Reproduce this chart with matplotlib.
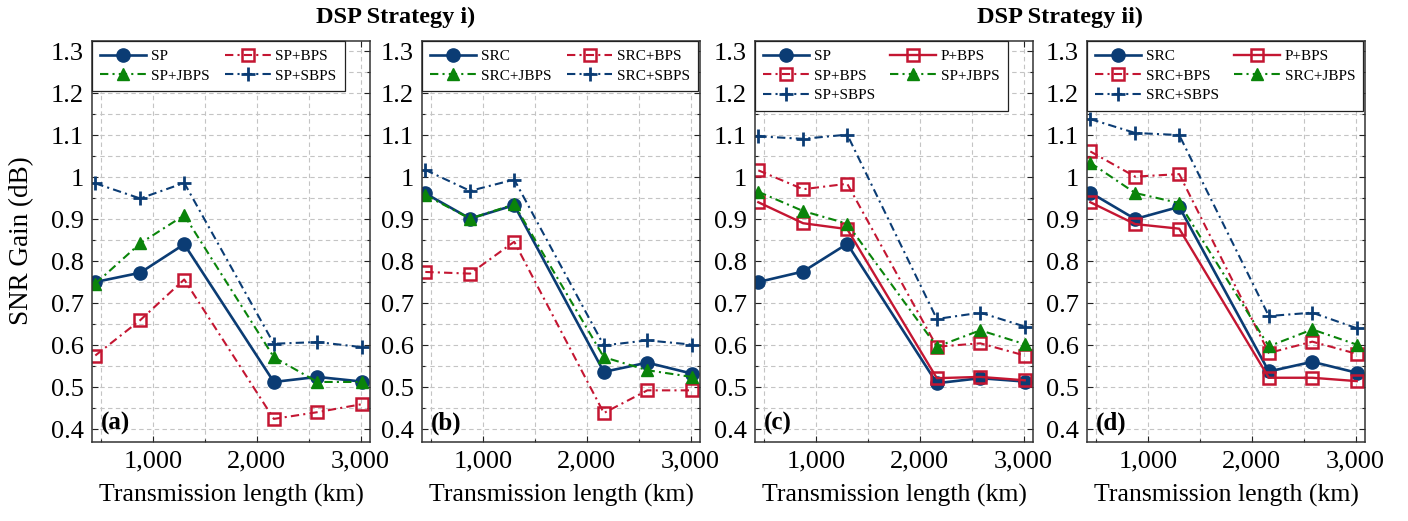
import matplotlib
matplotlib.use('Agg')
import matplotlib.pyplot as plt
from matplotlib.ticker import MultipleLocator, FuncFormatter

plt.rcParams['font.family'] = ['Liberation Serif', 'DejaVu Serif']

# ---------------- data ----------------
length_km = [442, 874, 1299, 2163, 2582, 3010]

a_sp = [0.751, 0.773, 0.841, 0.513, 0.525, 0.514]
a_sp_bps = [0.576, 0.660, 0.757, 0.425, 0.441, 0.460]
a_sp_jbps = [0.747, 0.843, 0.910, 0.572, 0.513, 0.513]
a_sp_sbps = [0.986, 0.950, 0.987, 0.604, 0.608, 0.596]

b_src = [0.962, 0.902, 0.934, 0.537, 0.559, 0.533]
b_src_bps = [0.775, 0.771, 0.847, 0.439, 0.493, 0.493]
b_src_jbps = [0.958, 0.902, 0.936, 0.572, 0.541, 0.525]
b_src_sbps = [1.018, 0.968, 0.995, 0.600, 0.612, 0.602]

c_sp = [0.751, 0.776, 0.842, 0.510, 0.522, 0.514]
c_p_bps = [0.941, 0.891, 0.877, 0.522, 0.525, 0.517]
c_sp_bps = [1.017, 0.972, 0.985, 0.597, 0.605, 0.576]
c_sp_jbps = [0.966, 0.920, 0.890, 0.597, 0.636, 0.603]
c_sp_sbps = [1.098, 1.092, 1.102, 0.663, 0.678, 0.645]

d_src = [0.964, 0.901, 0.930, 0.538, 0.561, 0.535]
d_p_bps = [0.941, 0.889, 0.878, 0.523, 0.523, 0.515]
d_src_bps = [1.062, 1.002, 1.008, 0.582, 0.609, 0.580]
d_src_jbps = [1.035, 0.963, 0.939, 0.598, 0.638, 0.602]
d_src_sbps = [1.139, 1.106, 1.101, 0.670, 0.678, 0.641]

titles = ['DSP Strategy i)', 'DSP Strategy ii)']
panel_tags = ['(a)', '(b)', '(c)', '(d)']
xlabel = 'Transmission length (km)'
ylabel = 'SNR Gain (dB)'

# ---------------- styles ----------------
BLUE = '#0b3c74'
RED = '#c41632'
GREEN = '#0a840a'
DD = (0, (4, 2, 1, 2))

STY = {
    'base': dict(color=BLUE, ls='-', lw=1.9, marker='o', ms=9.5, mfc=BLUE, mec=BLUE),
    'pbps': dict(color=RED, ls='-', lw=1.7, marker='s', ms=8.5, mfc='none', mec=RED, mew=1.8),
    'bps': dict(color=RED, ls=DD, lw=1.5, marker='s', ms=8.5, mfc='none', mec=RED, mew=1.8),
    'jbps': dict(color=GREEN, ls=DD, lw=1.5, marker='^', ms=9, mfc=GREEN, mec=GREEN),
    'sbps': dict(color=BLUE, ls=DD, lw=1.5, marker='+', ms=10, mew=2.0),
}

panels = [
    [('SP', a_sp, 'base'), ('SP+BPS', a_sp_bps, 'bps'),
     ('SP+JBPS', a_sp_jbps, 'jbps'), ('SP+SBPS', a_sp_sbps, 'sbps')],
    [('SRC', b_src, 'base'), ('SRC+BPS', b_src_bps, 'bps'),
     ('SRC+JBPS', b_src_jbps, 'jbps'), ('SRC+SBPS', b_src_sbps, 'sbps')],
    [('SP', c_sp, 'base'), ('P+BPS', c_p_bps, 'pbps'), ('SP+BPS', c_sp_bps, 'bps'),
     ('SP+JBPS', c_sp_jbps, 'jbps'), ('SP+SBPS', c_sp_sbps, 'sbps')],
    [('SRC', d_src, 'base'), ('P+BPS', d_p_bps, 'pbps'), ('SRC+BPS', d_src_bps, 'bps'),
     ('SRC+JBPS', d_src_jbps, 'jbps'), ('SRC+SBPS', d_src_sbps, 'sbps')],
]

W, H = 1408, 521
fig = plt.figure(figsize=(W / 100, H / 100), dpi=100)

lefts = [92, 422, 755, 1087]
ax_w = 278
top_px, bot_px = 41, 442
ax_h = bot_px - top_px


def yfmt(v, pos):
    s = ('%.1f' % v)
    if s == '1.0':
        return '1'
    return s


for i, (lp, series) in enumerate(zip(lefts, panels)):
    ax = fig.add_axes([lp / W, 1 - bot_px / H, ax_w / W, ax_h / H])
    lines = []
    for name, vals, kind in series:
        ln, = ax.plot(length_km, vals, label=name, **STY[kind])
        lines.append(ln)
    ax.set_xlim(410, 3090)
    ax.set_ylim(0.37, 1.325)
    ax.xaxis.set_major_locator(MultipleLocator(1000))
    ax.xaxis.set_minor_locator(MultipleLocator(500))
    ax.yaxis.set_major_locator(MultipleLocator(0.1))
    ax.yaxis.set_minor_locator(MultipleLocator(0.05))
    ax.xaxis.set_major_formatter(FuncFormatter(lambda v, p: '{:,.0f}'.format(v)))
    ax.yaxis.set_major_formatter(FuncFormatter(yfmt))
    ax.grid(True, which='both', ls=(0, (4, 3)), color='#c4c4c4', lw=0.8)
    ax.set_axisbelow(True)
    ax.tick_params(which='both', direction='in', top=True, right=True,
                   labelsize=19, colors='#222222', labelcolor='black')
    ax.tick_params(which='major', length=4, width=0.8)
    ax.tick_params(which='minor', length=2.5, width=0.8)
    ax.tick_params(axis='x', pad=6)
    ax.tick_params(axis='y', pad=6)
    for sp in ax.spines.values():
        sp.set_linewidth(1.1)
        sp.set_color('#333333')
    ax.set_xlabel(xlabel, fontsize=18.5)
    ax.xaxis.label.set_va('center')
    ax.xaxis.set_label_coords(0.5, -(495 - bot_px) / ax_h)
    ax.text(0.033, 0.018, panel_tags[i], transform=ax.transAxes, fontsize=18,
            fontweight='bold', ha='left', va='bottom')
    # legend order: row-major in reference, matplotlib fills column-major
    n = len(lines)
    order = list(range(0, n, 2)) + list(range(1, n, 2))
    handles = [lines[k] for k in order]
    leg = ax.legend(handles=handles, labels=[h.get_label() for h in handles],
                    loc='upper left', ncol=2, fontsize=11, frameon=True,
                    fancybox=False, framealpha=1, edgecolor='#222222',
                    borderaxespad=0.0, handlelength=3.0, handletextpad=0.3,
                    columnspacing=1.0, labelspacing=0.38, borderpad=0.55)
    leg.get_frame().set_linewidth(0.9)

fig.text(22 / W, 1 - 241 / H, ylabel, rotation=90, ha='center', va='center', fontsize=19.5)
fig.text((92 + 699) / 2 / W, 1 - 17 / H, titles[0], ha='center', va='center',
         fontsize=17.5, fontweight='bold')
fig.text((755 + 1365) / 2 / W, 1 - 17 / H, titles[1], ha='center', va='center',
         fontsize=17.5, fontweight='bold')

fig.savefig('out.png', dpi=100)
